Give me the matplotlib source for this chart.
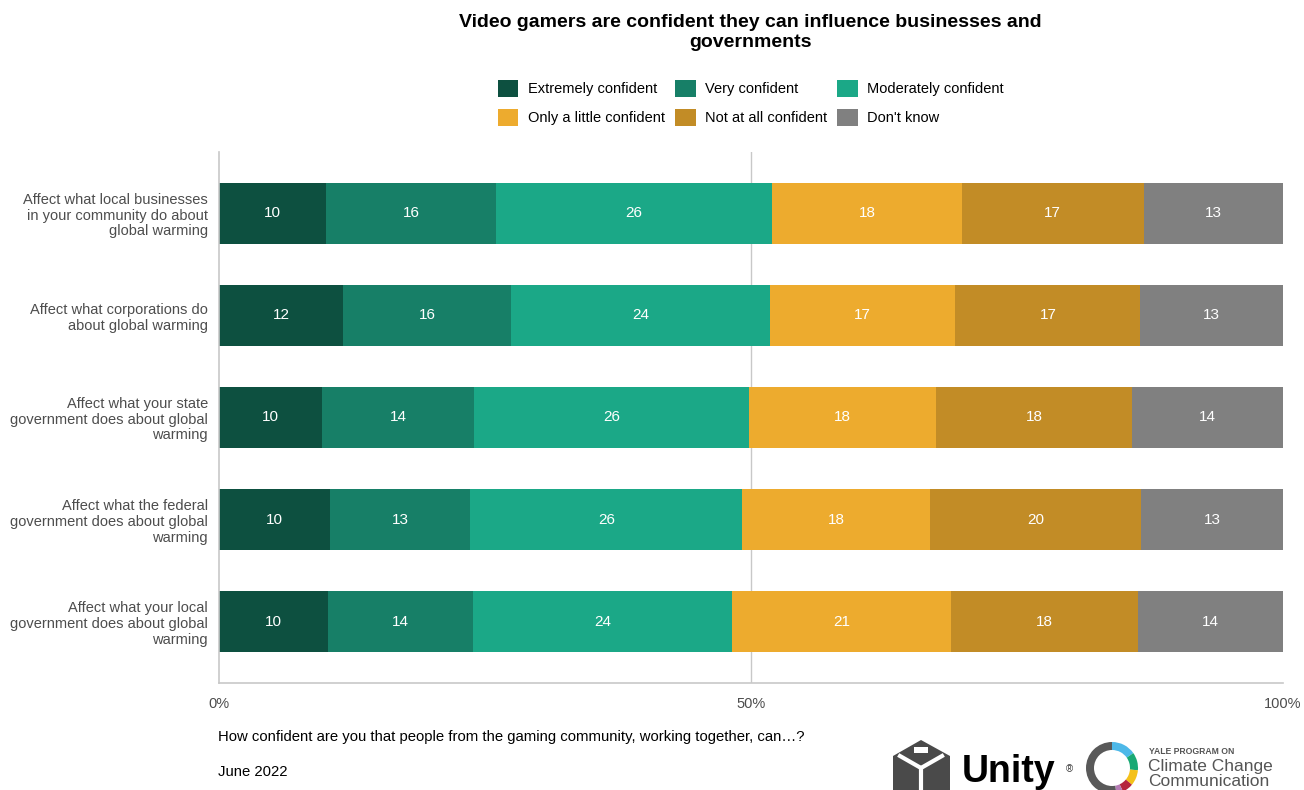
import matplotlib
import matplotlib.pyplot as plt
from matplotlib.patches import Wedge, Polygon, Rectangle
import numpy as np

matplotlib.rcParams["font.family"] = ["Liberation Sans", "DejaVu Sans"]

# Data
questions = [
    "Affect what local businesses\nin your community do about\nglobal warming",
    "Affect what corporations do\nabout global warming",
    "Affect what your state\ngovernment does about global\nwarming",
    "Affect what the federal\ngovernment does about global\nwarming",
    "Affect what your local\ngovernment does about global\nwarming",
]
categories = ["Extremely confident", "Very confident", "Moderately confident",
              "Only a little confident", "Not at all confident", "Don't know"]
extremely = [10.1, 11.7, 9.7, 10.4, 10.2]
very = [15.9, 15.7, 14.3, 13.2, 13.7]
moderately = [26.0, 24.4, 25.8, 25.6, 24.3]
little = [17.8, 17.4, 17.6, 17.6, 20.6]
not_at_all = [17.1, 17.4, 18.4, 19.9, 17.6]
dont_know = [13.1, 13.4, 14.2, 13.3, 13.6]
series = [extremely, very, moderately, little, not_at_all, dont_know]
colors = ["#0D5040", "#177F67", "#1BA887", "#EDAB2E", "#C28C26", "#808080"]
xticks = [0, 50, 100]
xtick_labels = ["0%", "50%", "100%"]

TEXT_GREY = "#4D4D4D"
LINE_GREY = "#C8C8C8"

fig = plt.figure(figsize=(13.04, 7.90), dpi=100)
ax = fig.add_axes([219 / 1304, 107 / 790, 1064 / 1304, 531 / 790])

# Stacked bars
y = np.arange(len(questions))
left = np.zeros(len(questions))
for vals, color, name in zip(series, colors, categories):
    vals = np.array(vals)
    ax.barh(y, vals, left=left, height=0.6, color=color, label=name, zorder=2)
    for yi, l, v in zip(y, left, vals):
        ax.text(l + v / 2, yi, f"{round(v):.0f}", ha="center", va="center",
                color="white", fontsize=11, zorder=3)
    left += vals

ax.set_xlim(0, 100)
ax.set_ylim(len(questions) - 0.4, -0.6)
ax.set_xticks(xticks)
ax.set_xticklabels(xtick_labels)
ax.set_yticks(y)
ax.set_yticklabels(questions, fontsize=10.5, color=TEXT_GREY, linespacing=1.15)
ax.tick_params(axis="both", length=0, colors=TEXT_GREY, labelsize=10.5)
ax.tick_params(axis="x", pad=10)
ax.tick_params(axis="y", pad=8)
# 50% reference line behind the bars
ax.axvline(50, color=LINE_GREY, linewidth=1, zorder=1)
ax.spines[["top", "right"]].set_visible(False)
for s in ["left", "bottom"]:
    ax.spines[s].set_color(LINE_GREY)
    ax.spines[s].set_linewidth(1.2)

# Legend
handles, labels = ax.get_legend_handles_labels()
order = [0, 3, 1, 4, 2, 5]
fig.legend([handles[i] for i in order], [labels[i] for i in order],
           ncol=3, loc="center", bbox_to_anchor=(751 / 1304, 1 - 103 / 790),
           frameon=False, fontsize=10.5, handlelength=1.4, handleheight=1.4,
           columnspacing=0.7, handletextpad=0.65, labelspacing=0.85)

# Title and notes
fig.text(750 / 1304, 1 - 32.5 / 790, "Video gamers are confident they can influence businesses and\ngovernments",
         ha="center", va="center", fontsize=14, weight="bold", linespacing=1.3)
fig.text(218 / 1304, 1 - 737 / 790,
         "How confident are you that people from the gaming community, working together, can\u2026?",
         ha="left", va="center", fontsize=10.7)
fig.text(218 / 1304, 1 - 772 / 790, "June 2022", ha="left", va="center", fontsize=10.7)

# Logos, drawn in pixel coordinates
lx = fig.add_axes([0, 0, 1, 1], facecolor="none")
lx.set_xlim(0, 1304)
lx.set_ylim(790, 0)
lx.axis("off")

# Unity cube
cube = Polygon([(921, 740), (950, 756), (950, 800), (921, 816), (893, 800), (893, 756)],
               closed=True, facecolor="#4A4A4A", edgecolor="none")
lx.add_patch(cube)
lx.plot([921, 921], [768, 795], color="white", linewidth=3)
lx.plot([921, 900], [768, 756], color="white", linewidth=3)
lx.plot([921, 942], [768, 756], color="white", linewidth=3)
lx.add_patch(Rectangle((914, 747), 14, 6, facecolor="white", edgecolor="none"))
lx.text(962, 782, "Unity", fontsize=27, weight="bold", ha="left", va="baseline", color="black")
lx.text(1066, 769, "\u00ae", fontsize=7, ha="left", va="center", color="#333333")

# Yale climate ring
ring = [(90, 270, "#595959"), (35, 90, "#4DB8E8"), (-5, 35, "#19A974"),
        (-40, -5, "#F4C11A"), (-65, -40, "#B5253F"), (-80, -65, "#B57BB5"), (-90, -80, "#595959")]
for t1, t2, c in ring:
    lx.add_patch(Wedge((1112, 768), 26, -t2, -t1, width=8, facecolor=c, edgecolor="none"))
lx.text(1149, 752, "YALE PROGRAM ON", fontsize=6.2, weight="bold", color="#555555", va="center")
lx.text(1148, 767, "Climate Change", fontsize=12.5, color="#555555", va="center")
lx.text(1148, 782, "Communication", fontsize=12.5, color="#555555", va="center")

plt.savefig("out.png", dpi=100, facecolor="white")
